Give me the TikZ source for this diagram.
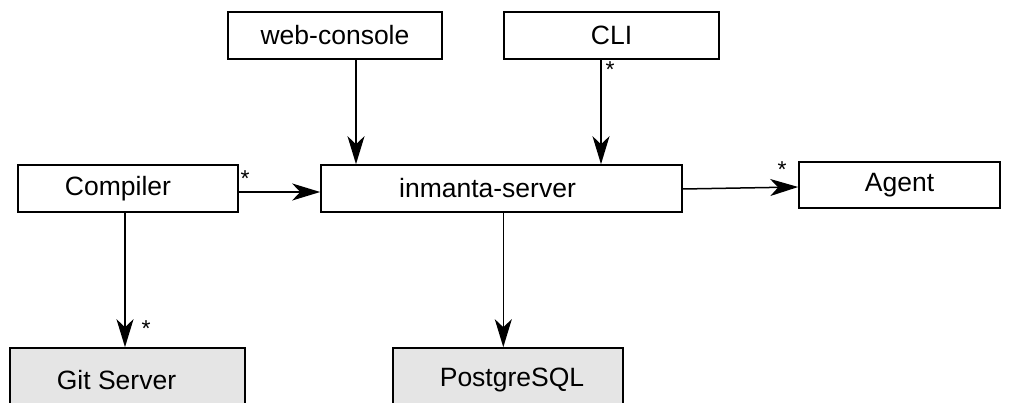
\documentclass[tikz,border=0pt]{standalone}
\usepackage{fontspec}
\setmainfont{Liberation Sans}
\usetikzlibrary{arrows.meta,calc}
\begin{document}
\begin{tikzpicture}[x=1pt,y=-1pt,
  box/.style={draw=black,line width=1.6pt,fill=white,inner sep=0pt,font=\fontsize{26.5}{30}\selectfont},
  ext/.style={box,fill=gray!20},
  arr/.style={line width=1.5pt,-{Stealth[length=28pt,width=17pt,inset=8pt]}},
  star/.style={font=\fontsize{23}{24}\selectfont,inner sep=0pt}]
\clip (0,0) rectangle (1012,403);
\fill[white] (0,0) rectangle (1012,403);
\node[box,minimum width=214pt,minimum height=47pt] (web) at (335,35.5) {web-console};
\node[box,minimum width=215pt,minimum height=47pt] (cli) at (611.5,35.5) {CLI};
\node[box,minimum width=220pt,minimum height=47pt] (compiler) at (128,188.5) {\hspace*{-20pt}Compiler};
\node[box,minimum width=361pt,minimum height=47pt] (server) at (501.5,188.5) {\hspace*{-28pt}inmanta-server};
\node[box,minimum width=201pt,minimum height=46pt] (agent) at (899.5,185) {Agent};
\node[ext,minimum width=235pt,minimum height=64pt] (git) at (127.5,380) {\hspace*{-22pt}Git Server};
\node[ext,minimum width=230pt,minimum height=64pt] (pg) at (508,380) {PostgreSQL\hspace*{-8pt}};
\draw[arr] ([xshift=21pt]web.south) -- ([xshift=21pt]web.south |- server.north);
\draw[arr] ([xshift=-10.5pt]cli.south) -- ([xshift=-10.5pt]cli.south |- server.north);
\draw[arr] ([yshift=-3.5pt]compiler.east) -- ([yshift=-3.5pt]compiler.east -| server.west);
\draw[arr] ([yshift=-0.5pt]server.east) -- ([yshift=-2pt]agent.west);
\draw[arr] ([xshift=-3pt]compiler.south) -- ([xshift=-3pt]compiler.south |- git.north);
\draw[arr] ([xshift=1.8pt]server.south) -- ([xshift=1.8pt]server.south |- pg.north);
\node[star] (s1) at (245,179) {*};
\node[star] (s2) at (610,70) {*};
\node[star] (s3) at (782,170) {*};
\node[star] (s4) at (146,329) {*};
\end{tikzpicture}
\end{document}
